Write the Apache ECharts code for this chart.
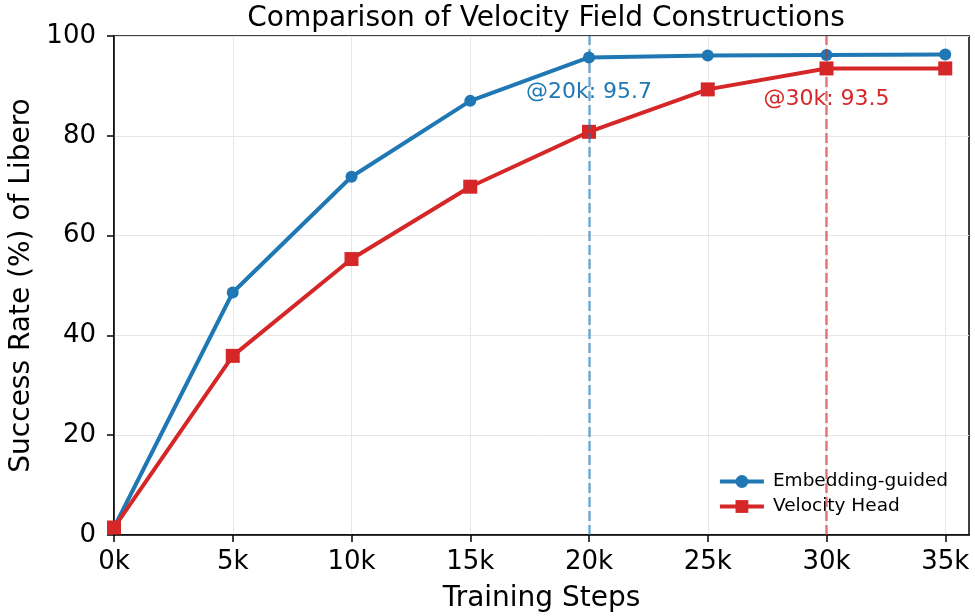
<!DOCTYPE html>
<html>
<head>
<meta charset="utf-8">
<script src="https://cdn.jsdelivr.net/npm/echarts@6/dist/echarts.min.js"></script>
<style>
  html, body { margin: 0; padding: 0; background: #fff; }
  #main { width: 975px; height: 616px; }
</style>
</head>
<body>
<div id="main"></div>
<script>
// training steps and success rates
var steps = [0, 5000, 10000, 15000, 20000, 25000, 30000, 35000];
var embeddingGuided = [1.5, 48.6, 71.8, 87.0, 95.7, 96.1, 96.2, 96.3];
var velocityHead = [1.5, 35.9, 55.3, 69.8, 80.8, 89.3, 93.5, 93.5];
var xTicks = [0, 5000, 10000, 15000, 20000, 25000, 30000, 35000];
var yTicks = [0, 20, 40, 60, 80, 100];

var font = 'DejaVu Sans';
var blue = '#1f77b4';
var red = '#d62728';

function pairs(xs, ys) {
  return xs.map(function (x, i) { return [x, ys[i]]; });
}

var chart = echarts.init(document.getElementById('main'), null, { renderer: 'canvas' });

var option = {
  animation: false,
  textStyle: { fontFamily: font },
  title: {
    text: 'Comparison of Velocity Field Constructions',
    left: 541, top: 0, textAlign: 'center',
    textStyle: { fontFamily: font, fontSize: 28, fontWeight: 'normal', color: '#000' }
  },
  grid: {
    left: 114, right: 6, top: 36, bottom: 81,
    outerBoundsMode: 'none',
    show: true, borderColor: '#000', borderWidth: 1.5, backgroundColor: 'transparent'
  },
  legend: {
    orient: 'vertical', right: 22, top: 467,
    itemWidth: 44, itemHeight: 16, itemGap: 6,
    lineStyle: { width: 4 },
    textStyle: { fontFamily: font, fontSize: 18.5, color: '#000', padding: [0, 0, 0, 4] },
    data: ['Embedding-guided', 'Velocity Head']
  },
  xAxis: {
    type: 'value', min: 0, max: 36000,
    name: 'Training Steps', nameLocation: 'middle', nameGap: 50,
    nameTextStyle: { fontFamily: font, fontSize: 28, color: '#000' },
    axisLine: { show: true, lineStyle: { color: '#000', width: 1.5 } },
    axisTick: { show: true, length: 7, lineStyle: { color: '#000', width: 1.5 }, customValues: xTicks },
    axisLabel: {
      fontFamily: font, fontSize: 26, color: '#000', margin: 14, customValues: xTicks,
      formatter: function (v) { return (v / 1000) + 'k'; }
    },
    splitLine: { show: true, lineStyle: { color: '#e6e6e6', width: 1 } }
  },
  yAxis: {
    type: 'value', min: 0, max: 100, interval: 20,
    name: 'Success Rate (%) of Libero', nameLocation: 'middle', nameGap: 70,
    nameTextStyle: { fontFamily: font, fontSize: 28, color: '#000' },
    axisLine: { show: true, lineStyle: { color: '#000', width: 1.5 } },
    axisTick: { show: true, length: 7, lineStyle: { color: '#000', width: 1.5 } },
    axisLabel: { fontFamily: font, fontSize: 26, color: '#000', margin: 18 },
    splitLine: { show: true, lineStyle: { color: '#e6e6e6', width: 1 } }
  },
  series: [
    {
      name: 'Embedding-guided',
      type: 'line',
      data: pairs(steps, embeddingGuided),
      symbol: 'circle', symbolSize: 12,
      lineStyle: { color: blue, width: 4 },
      itemStyle: { color: blue },
      z: 3,
      markLine: {
        silent: true, symbol: 'none', label: { show: false },
        lineStyle: { color: 'rgba(31,119,180,0.6)', type: [10, 4], width: 2.5 },
        data: [{ xAxis: 20000 }]
      },
      markPoint: {
        silent: true, symbol: 'rect', symbolSize: 0,
        label: {
          show: true, position: 'inside', fontFamily: font, fontSize: 22, color: blue,
          formatter: '@20k: 95.7'
        },
        data: [{ coord: [20000, 88.8] }]
      }
    },
    {
      name: 'Velocity Head',
      type: 'line',
      data: pairs(steps, velocityHead),
      symbol: 'rect', symbolSize: 14,
      lineStyle: { color: red, width: 4 },
      itemStyle: { color: red },
      z: 4,
      markLine: {
        silent: true, symbol: 'none', label: { show: false },
        lineStyle: { color: 'rgba(214,39,40,0.6)', type: [10, 4], width: 2.5 },
        data: [{ xAxis: 30000 }]
      },
      markPoint: {
        silent: true, symbol: 'rect', symbolSize: 0,
        label: {
          show: true, position: 'inside', fontFamily: font, fontSize: 22, color: red,
          formatter: '@30k: 93.5'
        },
        data: [{ coord: [30000, 87.4] }]
      }
    }
  ]
};

chart.setOption(option);
</script>
</body>
</html>
